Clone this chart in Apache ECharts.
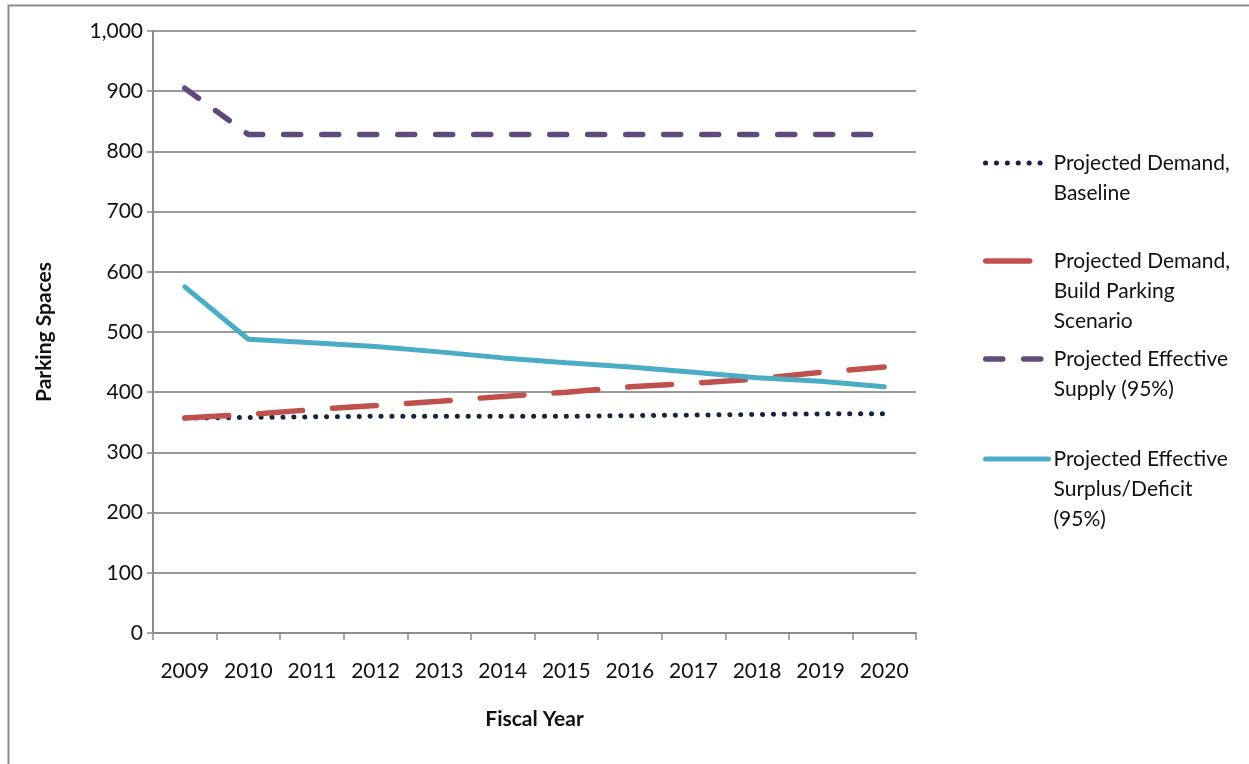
<!DOCTYPE html>
<html lang="en">
  <head>
    <meta charset="UTF-8" />
    <title>Parking Spaces</title>
    <script src="https://cdn.jsdelivr.net/npm/echarts@6/dist/echarts.min.js"></script>
    <style>
      html, body { margin: 0; padding: 0; background: #fff; }
    </style>
  </head>
  <body>
    <div id="chart" style="width: 1249px; height: 764px"></div>
  </body>
  <script>
    const years = ['2009', '2010', '2011', '2012', '2013', '2014', '2015', '2016', '2017', '2018', '2019', '2020']
    const demandBaseline = [357, 358, 359, 360, 360, 360, 360, 361, 362, 363, 364, 364]
    const demandBuild = [357, 363, 371, 378, 385, 393, 400, 409, 415, 422, 433, 442]
    const effectiveSupply = [905, 828, 828, 828, 828, 828, 828, 828, 828, 828, 828, 828]
    const surplusDeficit = [575, 488, 482, 476, 467, 457, 449, 442, 433, 424, 418, 409]

    const names = [
      'Projected Demand,\nBaseline',
      'Projected Demand,\nBuild Parking\nScenario',
      'Projected Effective\nSupply (95%)',
      'Projected Effective\nSurplus/Deficit\n(95%)'
    ]
    const colors = ['#17233f', '#c0504d', '#604a7b', '#4bacc6']
    const dashes = [[0.1, 10.8], [44, 30], [17, 21], 'solid']
    const widths = [5, 5.5, 5.5, 5]
    // y of the first text line of each legend entry (icon sits on it)
    const legendRows = [163, 261, 359, 459]

    const font = 'Lato, "Open Sans", sans-serif'
    const fs = 21
    const lh = 30
    const chart = echarts.init(document.getElementById('chart'))

    // one legend per entry so each one sits where the original has it;
    // blank lines in front of the text put the icon on the first real line
    const legends = names.map((n, i) => {
      const lines = n.split('\n').length
      const boxH = (2 * lines - 1) * lh
      return {
        data: [n],
        left: 978,
        top: legendRows[i] - boxH / 2 - 5,
        itemWidth: 63,
        itemHeight: 14,
        selectedMode: false,
        formatter: t => '\n'.repeat(lines - 1) + t,
        itemStyle: { opacity: 0 },
        lineStyle: { color: colors[i], width: widths[i], type: dashes[i], cap: 'round' },
        textStyle: { fontFamily: font, fontSize: fs, color: '#111', lineHeight: lh }
      }
    })

    function lineSeries(i, data) {
      return {
        name: names[i],
        type: 'line',
        data: data,
        symbol: 'none',
        z: 2 + i,
        lineStyle: { color: colors[i], width: widths[i], type: dashes[i], cap: 'round' },
        itemStyle: { color: colors[i] }
      }
    }

    const option = {
      animation: false,
      graphic: [
        {
          type: 'rect',
          shape: { x: 8.5, y: 5.5, width: 1300, height: 800 },
          style: { fill: 'none', stroke: '#8c8c8c', lineWidth: 2 },
          silent: true
        }
      ],
      legend: legends,
      grid: { left: 153, top: 31, right: 333, bottom: 131 },
      xAxis: {
        type: 'category',
        data: years,
        boundaryGap: true,
        name: 'Fiscal Year',
        nameLocation: 'middle',
        nameGap: 76,
        nameTextStyle: { fontFamily: font, fontSize: fs, fontWeight: 'bold', color: '#111' },
        axisLine: { lineStyle: { color: '#8c8c8c', width: 2 } },
        axisTick: { show: true, length: 7, lineStyle: { color: '#8c8c8c', width: 1.5 } },
        axisLabel: { margin: 28, fontFamily: font, fontSize: fs, color: '#111' }
      },
      yAxis: {
        type: 'value',
        min: 0,
        max: 1000,
        interval: 100,
        name: 'Parking Spaces',
        nameLocation: 'middle',
        nameGap: 98,
        nameTextStyle: { fontFamily: font, fontSize: fs, fontWeight: 'bold', color: '#111' },
        axisLine: { show: true, lineStyle: { color: '#8c8c8c', width: 2 } },
        axisTick: { show: true, length: 6, lineStyle: { color: '#8c8c8c', width: 1.5 } },
        axisLabel: {
          margin: 10,
          fontFamily: font,
          fontSize: fs,
          color: '#111',
          formatter: v => v.toLocaleString('en-US')
        },
        splitLine: { lineStyle: { color: '#9a9a9a', width: 2 } }
      },
      series: [
        lineSeries(0, demandBaseline),
        lineSeries(1, demandBuild),
        lineSeries(2, effectiveSupply),
        lineSeries(3, surplusDeficit)
      ]
    }
    chart.setOption(option)
  </script>
</html>
